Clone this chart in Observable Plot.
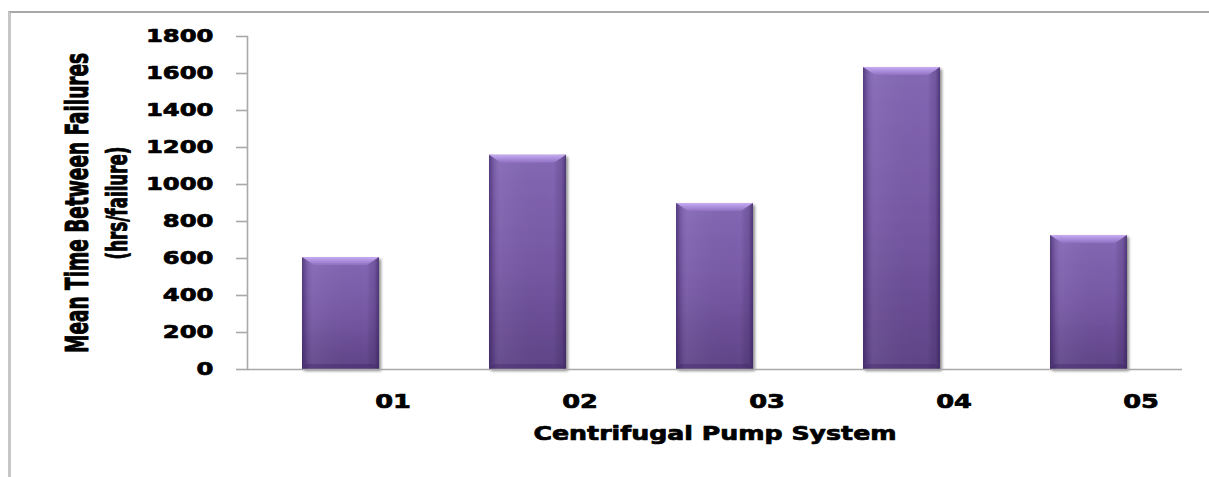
<!DOCTYPE html>
<html>
<head>
<meta charset="utf-8">
<script src="https://cdn.jsdelivr.net/npm/d3@7"></script>
<script src="https://cdn.jsdelivr.net/npm/@observablehq/plot@0.6"></script>
<style>
  html, body { margin: 0; padding: 0; background: #fff; overflow: hidden; }
  #chart { position: relative; width: 1209px; height: 477px; overflow: hidden; }
  #border { position: absolute; left: 8px; top: 11px; width: 1400px; height: 700px;
            border-left: 3px solid #c6c6c6; border-top: 2px solid #a8a8a8; }
  #chart svg { position: absolute; left: 0; top: 0; }
</style>
</head>
<body>
<div id="chart"><div id="border"></div></div>
<script>
// Centrifugal pump systems and their mean time between failures (hrs/failure)
const pumps = ["01", "02", "03", "04", "05"];
const mtbf = [605, 1158, 897, 1632, 724];
const yTicks = [0, 200, 400, 600, 800, 1000, 1200, 1400, 1600, 1800];
const xTitle = "Centrifugal Pump System";
const yTitle = "Mean Time Between Failures";
const yUnit = "(hrs/failure)";

const rows = pumps.map((pump, i) => ({pump, mtbf: mtbf[i]}));

// horizontal stretch of the lettering
const stretch = 1.35;
const sans = "'DejaVu Sans', Verdana, sans-serif";
const narrow = "'Liberation Sans Narrow', 'Arial Narrow', 'DejaVu Sans Condensed', sans-serif";

const chart = Plot.plot({
  width: 1209,
  height: 477,
  marginLeft: 247,
  marginRight: 27,
  marginTop: 36,
  marginBottom: 108,
  style: {background: "transparent", fontFamily: sans, color: "#000", overflow: "visible"},
  x: {domain: pumps, paddingInner: 0.589, paddingOuter: 0.29, axis: null},
  y: {domain: [0, 1800], axis: null},
  marks: [
    Plot.barY(rows, {x: "pump", y: "mtbf", fill: "url(#barBody)"}),
    Plot.barY(rows, {x: "pump", y: "mtbf", fill: "url(#barSides)"}),
    Plot.ruleY([0], {stroke: "#a9a9a9", strokeWidth: 1.6}),
    Plot.frame({anchor: "left", stroke: "#a9a9a9", strokeWidth: 1.6}),
    Plot.axisY({ticks: yTicks, tickFormat: d => String(d), label: null,
      tickSize: 11, tickPadding: 23, stroke: "#a9a9a9", strokeWidth: 1.6,
      fontSize: 18, fontWeight: "bold", fill: "#000", className: "heavy"}),
    Plot.axisX({label: null, tickSize: 0, tickPadding: 25, dx: 52,
      fontSize: 19, fontWeight: "bold", fill: "#000", className: "heavy"}),
    Plot.text([xTitle], {frameAnchor: "bottom", dy: 70, fontSize: 19, fontWeight: "bold",
      fill: "#000", className: "xtitle heavy"}),
    Plot.text([yTitle], {frameAnchor: "left", textAnchor: "middle", rotate: -90, dx: -170,
      fontSize: 24, fontWeight: "bold", fontFamily: narrow, fill: "#000", className: "ytitle heavy"}),
    Plot.text([yUnit], {frameAnchor: "left", textAnchor: "middle", rotate: -90, dx: -130,
      fontSize: 21, fontWeight: "bold", fontFamily: narrow, fill: "#000", className: "yunit heavy"})
  ]
});

const svg = d3.select(chart);

svg.insert("defs", ":first-child").html(`
  <linearGradient id="barBody" x1="0" y1="0" x2="0" y2="1">
    <stop offset="0" stop-color="#8468b5"/>
    <stop offset="0.5" stop-color="#7658a4"/>
    <stop offset="1" stop-color="#5f4487"/>
  </linearGradient>
  <linearGradient id="barSides" x1="0" y1="0" x2="1" y2="0">
    <stop offset="0" stop-color="#2e1850" stop-opacity="0.55"/>
    <stop offset="0.06" stop-color="#2e1850" stop-opacity="0.15"/>
    <stop offset="0.16" stop-color="#ffffff" stop-opacity="0.05"/>
    <stop offset="0.84" stop-color="#000000" stop-opacity="0"/>
    <stop offset="0.94" stop-color="#2e1850" stop-opacity="0.2"/>
    <stop offset="1" stop-color="#2e1850" stop-opacity="0.6"/>
  </linearGradient>
  <linearGradient id="barTop" x1="0" y1="0" x2="0" y2="1">
    <stop offset="0" stop-color="#c6abf2"/>
    <stop offset="1" stop-color="#8f70c2"/>
  </linearGradient>
  <filter id="barShadow" x="-10%" y="-10%" width="125%" height="125%">
    <feGaussianBlur in="SourceAlpha" stdDeviation="1.6"/>
    <feOffset dx="1.5" dy="2" result="blur"/>
    <feComponentTransfer><feFuncA type="linear" slope="0.45"/></feComponentTransfer>
    <feMerge><feMergeNode/><feMergeNode in="SourceGraphic"/></feMerge>
  </filter>
`);

// bevelled top and bottom edges, built from the rendered bars
const barGroups = chart.querySelectorAll('g[aria-label="bar"]');
d3.select(barGroups[0]).attr("filter", "url(#barShadow)");
const bevel = d3.select(barGroups[1].parentNode).insert("g", () => barGroups[1].nextSibling);
barGroups[0].querySelectorAll("rect").forEach(r => {
  const x = +r.getAttribute("x"), y = +r.getAttribute("y");
  const w = +r.getAttribute("width"), h = +r.getAttribute("height");
  const t = 8, s = 12, b = 5;
  bevel.append("polygon")
    .attr("points", `${x},${y} ${x + w},${y} ${x + w - s},${y + t} ${x + s},${y + t}`)
    .attr("fill", "url(#barTop)");
  bevel.append("polygon")
    .attr("points", `${x},${y + h} ${x + w},${y + h} ${x + w - b},${y + h - b} ${x + b},${y + h - b}`)
    .attr("fill", "#3c2360").attr("fill-opacity", 0.35);
});

// widen every label horizontally about its anchor point
function widen(el, sx, sy) {
  const tr = el.getAttribute("transform");
  if (tr) {
    el.setAttribute("transform", `${tr} scale(${sx},${sy})`);
  } else {
    const x = +(el.getAttribute("x") || 0), y = +(el.getAttribute("y") || 0);
    el.setAttribute("transform", `translate(${x},${y}) scale(${sx},${sy}) translate(${-x},${-y})`);
  }
}
chart.querySelectorAll("text").forEach(t => {
  const rotated = /rotate\(/.test(t.getAttribute("transform") || "");
  if (rotated) widen(t, 1, stretch); else widen(t, stretch, 1);
});
chart.querySelectorAll(".xtitle text").forEach(t => {
  t.setAttribute("textLength", 269); t.setAttribute("lengthAdjust", "spacingAndGlyphs");
});
chart.querySelectorAll(".ytitle text").forEach(t => {
  t.setAttribute("textLength", 300); t.setAttribute("lengthAdjust", "spacingAndGlyphs");
});
chart.querySelectorAll(".yunit text").forEach(t => {
  t.setAttribute("textLength", 113); t.setAttribute("lengthAdjust", "spacingAndGlyphs");
});
// heavier lettering
chart.querySelectorAll(".heavy text").forEach(t => {
  t.setAttribute("stroke", "#000"); t.setAttribute("stroke-width", 0.7);
  t.setAttribute("stroke-linejoin", "round");
});

document.getElementById("chart").appendChild(chart);
</script>
</body>
</html>
